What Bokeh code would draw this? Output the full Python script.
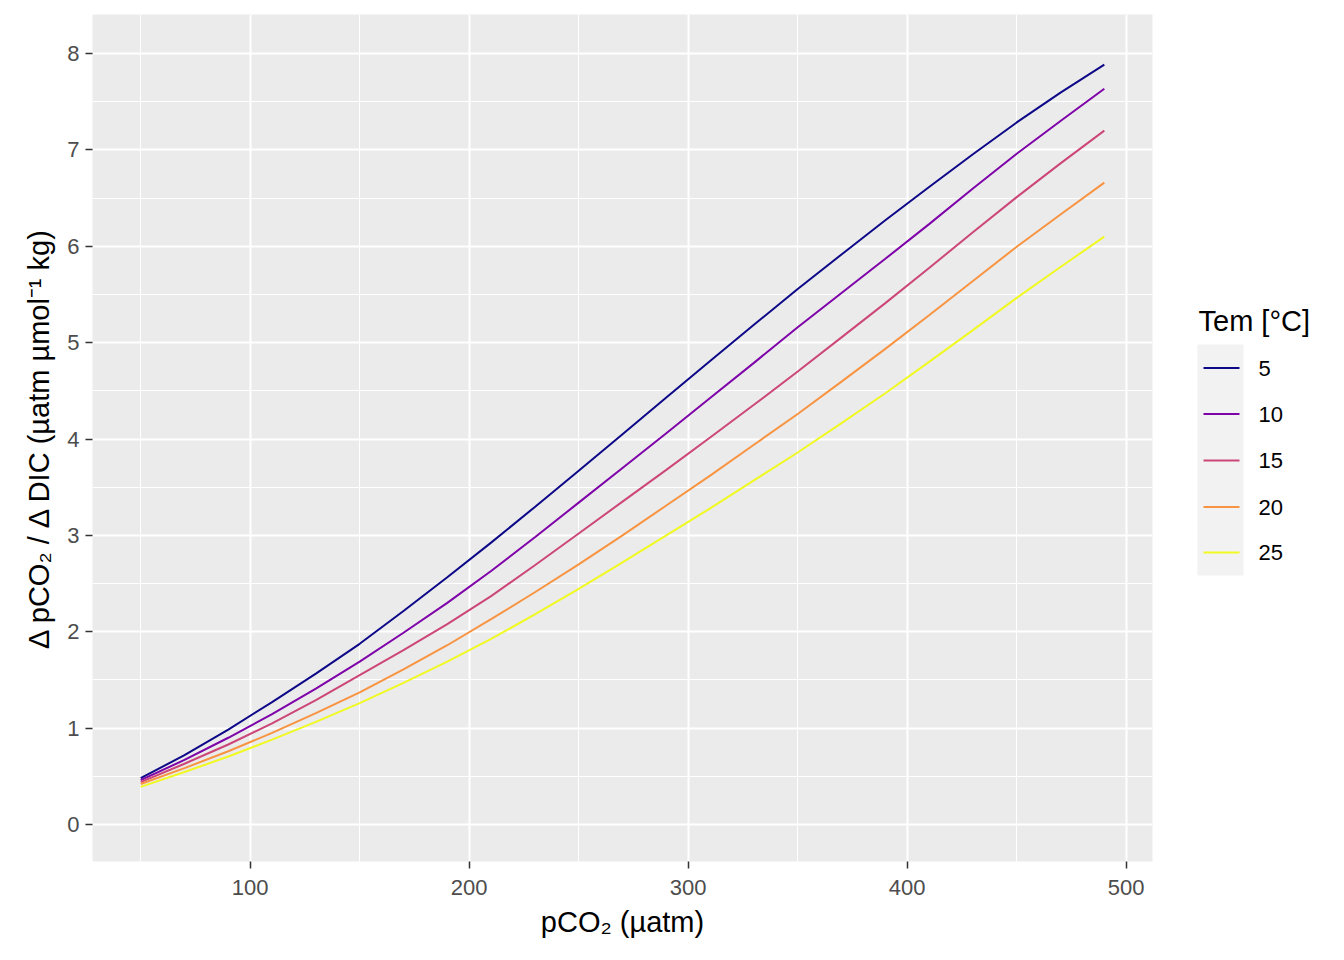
from bokeh.plotting import figure
from bokeh.layouts import row
from bokeh.models import Range1d, FixedTicker
from bokeh.core.properties import value
from bokeh.embed import file_html
from bokeh.resources import INLINE

# ---- data ----
pco2 = [50, 70, 90, 110, 130, 150, 170, 190, 210, 230, 250, 270, 290, 310,
        330, 350, 370, 390, 410, 430, 450, 470, 490]
temps = ["5", "10", "15", "20", "25"]
t5 = [0.48, 0.72, 0.985, 1.27, 1.565, 1.875, 2.215, 2.565, 2.925, 3.295, 3.67, 4.05,
      4.43, 4.81, 5.185, 5.557, 5.915, 6.27, 6.615, 6.955, 7.285, 7.595, 7.884]
t10 = [0.46, 0.67, 0.90, 1.145, 1.41, 1.69, 1.99, 2.30, 2.63, 2.98, 3.34, 3.70,
       4.06, 4.425, 4.79, 5.16, 5.515, 5.87, 6.23, 6.60, 6.96, 7.30, 7.635]
t15 = [0.44, 0.63, 0.83, 1.05, 1.29, 1.55, 1.81, 2.08, 2.37, 2.69, 3.02, 3.35,
       3.68, 4.015, 4.355, 4.70, 5.055, 5.41, 5.775, 6.145, 6.51, 6.86, 7.20]
t20 = [0.42, 0.585, 0.76, 0.95, 1.155, 1.37, 1.61, 1.86, 2.13, 2.41, 2.70, 3.00,
       3.31, 3.62, 3.94, 4.26, 4.595, 4.935, 5.285, 5.64, 5.995, 6.33, 6.66]
t25 = [0.39, 0.545, 0.705, 0.88, 1.065, 1.26, 1.47, 1.69, 1.925, 2.18, 2.445, 2.72,
       3.00, 3.28, 3.57, 3.86, 4.165, 4.475, 4.80, 5.13, 5.465, 5.785, 6.10]
series = [t5, t10, t15, t20, t25]
colors = ["#0D0887", "#7E03A8", "#CC4678", "#F89441", "#F0F921"]
x_ticks = [100, 200, 300, 400, 500]
x_minor = [50, 150, 250, 350, 450]
y_ticks = [0, 1, 2, 3, 4, 5, 6, 7, 8]
y_minor = [0.5, 1.5, 2.5, 3.5, 4.5, 5.5, 6.5, 7.5]

FONT = "Liberation Sans"

p = figure(width=1180, height=960, x_range=Range1d(28, 512),
           y_range=Range1d(-0.384, 8.405), output_backend="svg",
           toolbar_location=None, min_border_left=92, min_border_right=28,
           min_border_top=14, min_border_bottom=99)
p.background_fill_color = "#EBEBEB"
p.border_fill_color = "white"
p.outline_line_color = None

p.xaxis.ticker = FixedTicker(ticks=x_ticks, minor_ticks=x_minor)
p.yaxis.ticker = FixedTicker(ticks=y_ticks, minor_ticks=y_minor)

for g in (p.xgrid, p.ygrid):
    g.grid_line_color = "white"
    g.grid_line_width = 2
    g.minor_grid_line_color = "white"
    g.minor_grid_line_width = 1

for ax in (p.xaxis, p.yaxis):
    ax.axis_line_color = None
    ax.major_tick_line_color = "#333333"
    ax.major_tick_line_width = 1.5
    ax.major_tick_out = 7
    ax.major_tick_in = 0
    ax.minor_tick_out = 0
    ax.minor_tick_in = 0
    ax.major_label_text_color = "#4D4D4D"
    ax.major_label_text_font = FONT
    ax.major_label_text_font_size = "22px"
    ax.axis_label_text_font = FONT
    ax.axis_label_text_font_size = "29px"
    ax.axis_label_text_font_style = "normal"
    ax.axis_label_text_color = "black"

p.xaxis.major_label_standoff = 11
p.yaxis.major_label_standoff = 6
p.xaxis.axis_label_standoff = 8
p.yaxis.axis_label_standoff = 9
p.xaxis.axis_label = "pCO₂ (µatm)"
p.yaxis.axis_label = "Δ pCO₂ / Δ DIC (µatm µmol⁻¹ kg)"

for vals, c in zip(series, colors):
    p.line(pco2, vals, line_color=c, line_width=2)

# ---- legend panel (frame is aligned with the main plot frame: y 14..861) ----
lg = figure(width=164, height=960, x_range=Range1d(0, 164), y_range=Range1d(861, 14),
            output_backend="svg", toolbar_location=None, x_axis_type=None,
            y_axis_type=None, min_border=0)
lg.outline_line_color = None
lg.grid.visible = False
lg.background_fill_color = "white"
lg.border_fill_color = "white"

lg.quad(left=[17], right=[63], top=[344], bottom=[575], fill_color="#F2F2F2",
        line_color=None)
key_y = [367.5, 413.5, 460, 506.5, 552]
for ky, c, t in zip(key_y, colors, temps):
    lg.line([23, 59], [ky, ky], line_color=c, line_width=2)
    lg.text(x=[78], y=[ky], text=[t], text_font=value(FONT), text_font_size="22px",
            text_color="black", text_baseline="middle", text_align="left")
lg.text(x=[18], y=[320], text=["Tem [°C]"], text_font=value(FONT),
        text_font_size="29px", text_color="black", text_baseline="middle",
        text_align="left")

layout = row(p, lg, spacing=0)
open("out.html", "w").write(file_html(layout, INLINE))
